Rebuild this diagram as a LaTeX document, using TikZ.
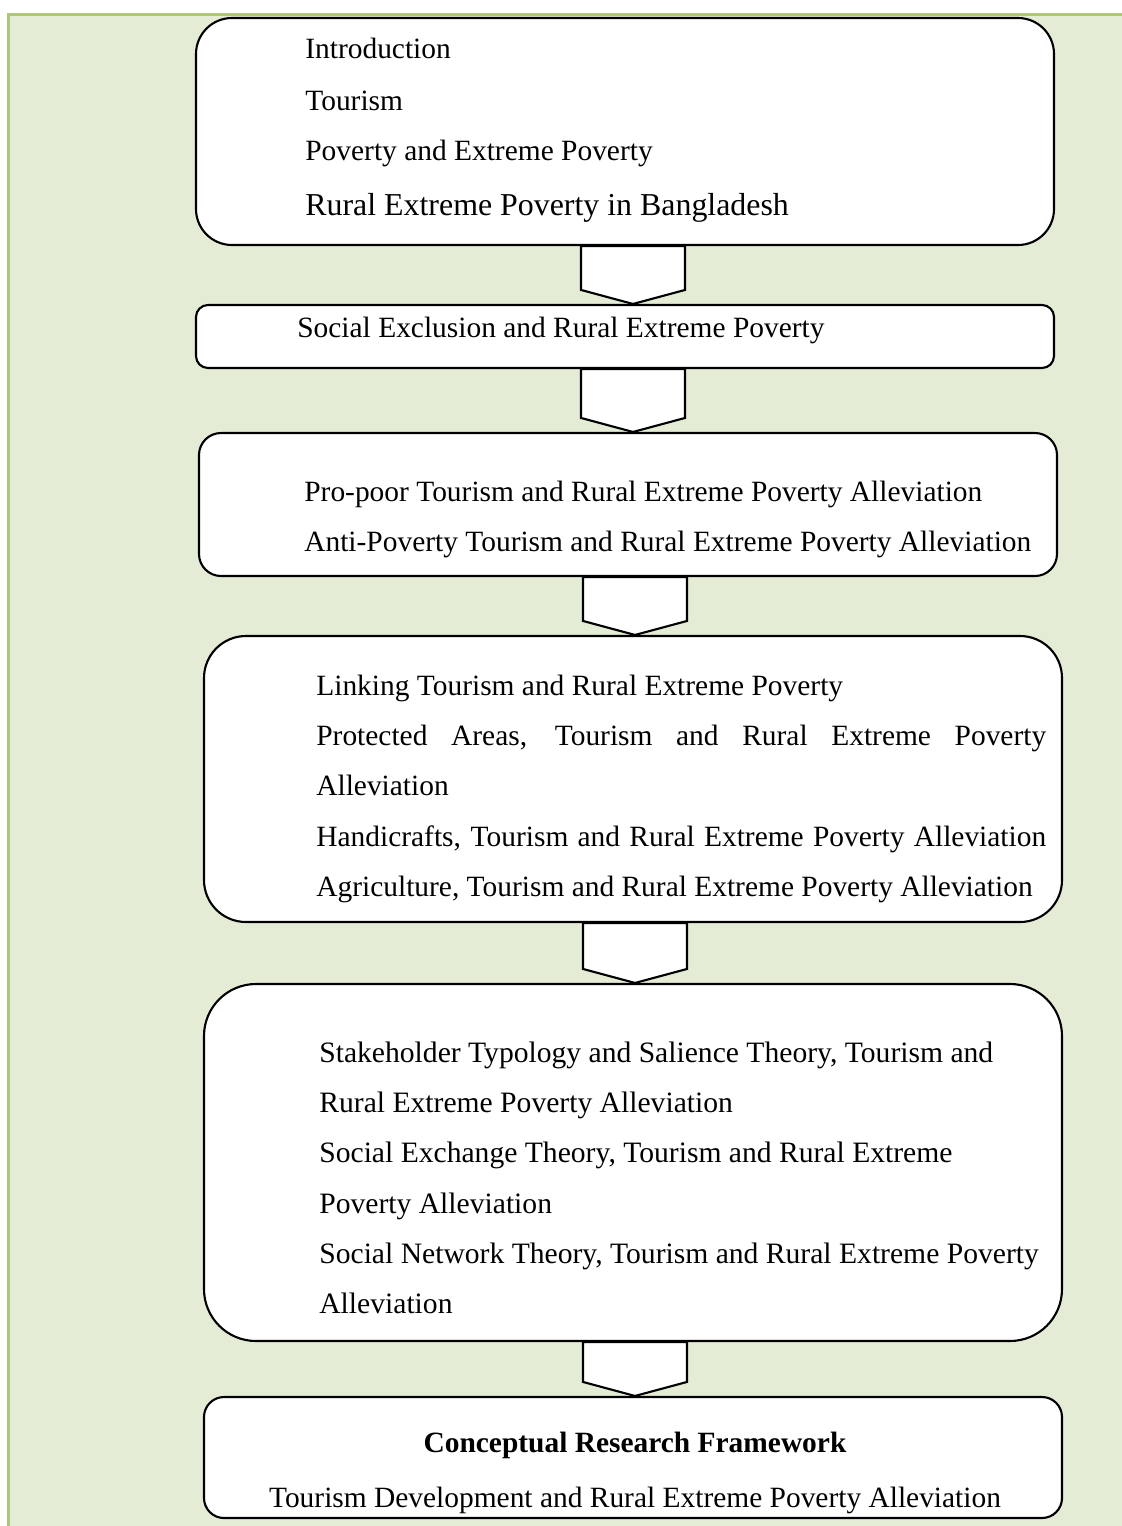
\documentclass[tikz,border=0pt]{standalone}
\usepackage{fontspec}
\setmainfont{Liberation Serif}
\usetikzlibrary{calc,fit}

\definecolor{framefill}{RGB}{228,236,214}
\definecolor{frameline}{RGB}{173,199,120}
\newcommand{\boxfont}{\fontsize{16.75pt}{28.6pt}\selectfont}
% block arrow: #1 column coordinate, #2 upper box, #3 lower box
\newcommand{\chevron}[3]{%
  \draw[chev] ($(#1 |- #2.south)+(-52,0)$) -- ($(#1 |- #3.north)+(-52,-14)$)
    -- (#1 |- #3.north) -- ($(#1 |- #3.north)+(52,-14)$)
    -- ($(#1 |- #2.south)+(52,0)$) -- cycle;}

\begin{document}
\begin{tikzpicture}[x=0.02cm,y=-0.02cm,
    box/.style={draw,fill=white,line width=1.2pt,inner sep=0pt},
    chev/.style={draw,fill=white,line width=1.2pt,line join=miter},
    txt/.style={anchor=north west,inner sep=0pt,align=left,font=\boxfont}]
    \useasboundingbox (0,0) rectangle (1122,1526);
    \fill[framefill] (9,14) rectangle (1122,1526);
    \draw[frameline,line width=1.6pt] (8.5,1526) -- (8.5,14.5) -- (1122,14.5);

    % boxes
    \node [box, rounded corners=0.72cm, fit={(196,18) (1054,245)}] (intro) {};
    \node [box, rounded corners=0.24cm, fit={(196,305) (1054,368)}] (exclusion) {};
    \node [box, rounded corners=0.44cm, fit={(199,433) (1057,576)}] (propoor) {};
    \node [box, rounded corners=0.84cm, fit={(204,636) (1062,922)}] (linking) {};
    \node [box, rounded corners=1.04cm, fit={(204,984) (1062,1341)}] (theory) {};
    \node [box, rounded corners=0.40cm, fit={(204,1397) (1062,1518)}] (framework) {};

    % texts
    \node [txt] (introtext) at (305,37.5) {Introduction\\[1.1pt] Tourism\\ Poverty and Extreme Poverty\\[2.8pt]
        {\fontsize{18.15pt}{28.6pt}\selectfont Rural Extreme Poverty in Bangladesh}};
    \node [txt] (exclusiontext) at (297,316.5) {Social Exclusion and Rural Extreme Poverty};
    \node [txt] (propoortext) at (304,480.5) {Pro-poor Tourism and Rural Extreme Poverty Alleviation\\
        Anti-Poverty Tourism and Rural Extreme Poverty Alleviation};
    \node [txt] (linkingtext) at (316,674.5) {Linking Tourism and Rural Extreme Poverty\\
        \makebox[14.6cm][s]{Protected Areas, Tourism and Rural Extreme Poverty}\\
        Alleviation\\
        \makebox[14.6cm][s]{Handicrafts, Tourism and Rural Extreme Poverty Alleviation}\\
        Agriculture, Tourism and Rural Extreme Poverty Alleviation};
    \node [txt, font=\fontsize{16.85pt}{28.6pt}\selectfont] (theorytext) at (319,1041.5)
        {Stakeholder Typology and Salience Theory, Tourism and\\
        Rural Extreme Poverty Alleviation\\
        Social Exchange Theory, Tourism and Rural Extreme\\
        Poverty Alleviation\\
        Social Network Theory, Tourism and Rural Extreme Poverty\\
        Alleviation};
    \node [txt, anchor=north, align=center] (frameworktext) at (635,1431.5)
        {\textbf{Conceptual Research Framework}\\[2.7pt]
        Tourism Development and Rural Extreme Poverty Alleviation};

    % arrows between boxes
    \coordinate (colA) at (633,0);
    \coordinate (colB) at (635,0);
    \chevron{colA}{intro}{exclusion}
    \chevron{colA}{exclusion}{propoor}
    \chevron{colB}{propoor}{linking}
    \chevron{colB}{linking}{theory}
    \chevron{colB}{theory}{framework}
\end{tikzpicture}
\end{document}
